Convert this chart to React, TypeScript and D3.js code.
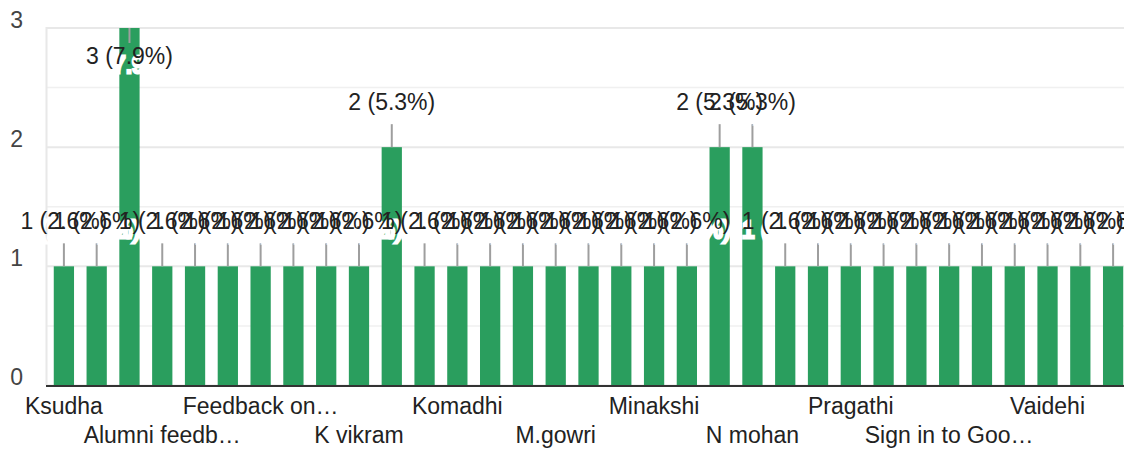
import React from "react";
import * as d3 from "d3";

const categories: string[] = [
  "Ksudha", "Abinaya", "Akila", "Alumni feedb…", "Anitha", "Deepa",
  "Feedback on…", "Gayathri", "Indhu", "K vikram", "Kalai", "Kavitha",
  "Komadhi", "Lakshmi", "Latha", "M.gowri", "Malathi", "Meena",
  "Minakshi", "Mohana", "Murugan", "N mohan", "Nandhini", "Padma",
  "Pragathi", "Priya", "Revathi", "Sign in to Goo…", "Sudha", "Uma",
  "Vaidehi", "Vasuki", "Vidhya",
];
const counts: number[] = [
  1, 1, 3, 1, 1, 1, 1, 1, 1, 1, 2, 1, 1, 1, 1, 1, 1, 1, 1, 1, 2, 2, 1, 1, 1, 1, 1, 1, 1, 1, 1, 1, 1,
];
const yTicks: number[] = [0, 1, 2, 3];
const yMinorTicks: number[] = [0.5, 1.5, 2.5];

const W = 1124;
const H = 452;
const FONT = "Arial, 'Liberation Sans', sans-serif";
const GREEN = "#2a9e5e";

export default function App() {
  const total = d3.sum(counts);
  const x = d3
    .scaleBand<string>()
    .domain(categories)
    .range([47.5, 1129.5])
    .paddingInner(0.382)
    .paddingOuter(0.191);
  const y = d3.scaleLinear().domain([0, 3]).range([385.5, 28]);
  const maxV = d3.max(counts) as number;

  const ann = categories.map((c, i) => {
    const v = counts[i];
    const cx = (x(c) as number) + x.bandwidth() / 2;
    const top = y(v);
    const inside = v === maxV;
    const stemEnd = inside ? top + 15 : top - 23;
    const base = inside ? top + 36 : top - 37;
    const label = `${v} (${((v / total) * 100).toFixed(1)}%)`;
    return { cx, top, stemEnd, base, label };
  });

  return (
    <svg
      width={W}
      height={H}
      style={{ position: "absolute", left: 0, top: 0, background: "#fff" }}
      fontFamily={FONT}
    >
      <rect x={0} y={0} width={W} height={H} fill="#fff" />
      {yMinorTicks.map((t) => (
        <line key={"m" + t} x1={46} x2={W} y1={y(t)} y2={y(t)} stroke="#f0f0f0" strokeWidth={1.5} />
      ))}
      {yTicks.map((t) => (
        <line key={"g" + t} x1={46} x2={W} y1={y(t)} y2={y(t)} stroke="#e8e8e8" strokeWidth={2} />
      ))}
      <line x1={46.5} x2={46.5} y1={27} y2={385} stroke="#e8e8e8" strokeWidth={2} />
      {categories.map((c, i) => (
        <rect
          key={"b" + c}
          x={x(c)}
          y={y(counts[i])}
          width={x.bandwidth()}
          height={y(0) - y(counts[i])}
          fill={GREEN}
        />
      ))}
      {ann.map((a, i) => (
        <line key={"s" + i} x1={a.cx} x2={a.cx} y1={a.top} y2={a.stemEnd} stroke="#9e9e9e" strokeWidth={2} />
      ))}
      <g fontSize={23} textAnchor="middle">
        {ann.map((a, i) => (
          <text key={"h" + i} x={a.cx} y={a.base + 9} fill="#fff" stroke="#fff" strokeWidth={3}>
            {a.label}
          </text>
        ))}
      </g>
      <g fontSize={23} textAnchor="middle" fill="#222">
        {ann.map((a, i) => (
          <text key={"t" + i} x={a.cx} y={a.base}>
            {a.label}
          </text>
        ))}
      </g>
      <line x1={46} x2={W} y1={386} y2={386} stroke="#333" strokeWidth={2} />
      <g fontSize={23} textAnchor="end" fill="#444">
        {yTicks.map((t) => (
          <text key={"y" + t} x={23} y={y(t) - 0.5}>
            {t}
          </text>
        ))}
      </g>
      <g fontSize={23} textAnchor="middle" fill="#222">
        {categories.map((c, i) =>
          i % 3 === 0 ? (
            <text
              key={"c" + c}
              x={(x(c) as number) + x.bandwidth() / 2}
              y={(i / 3) % 2 === 0 ? 414 : 443}
            >
              {c}
            </text>
          ) : null
        )}
      </g>
    </svg>
  );
}
